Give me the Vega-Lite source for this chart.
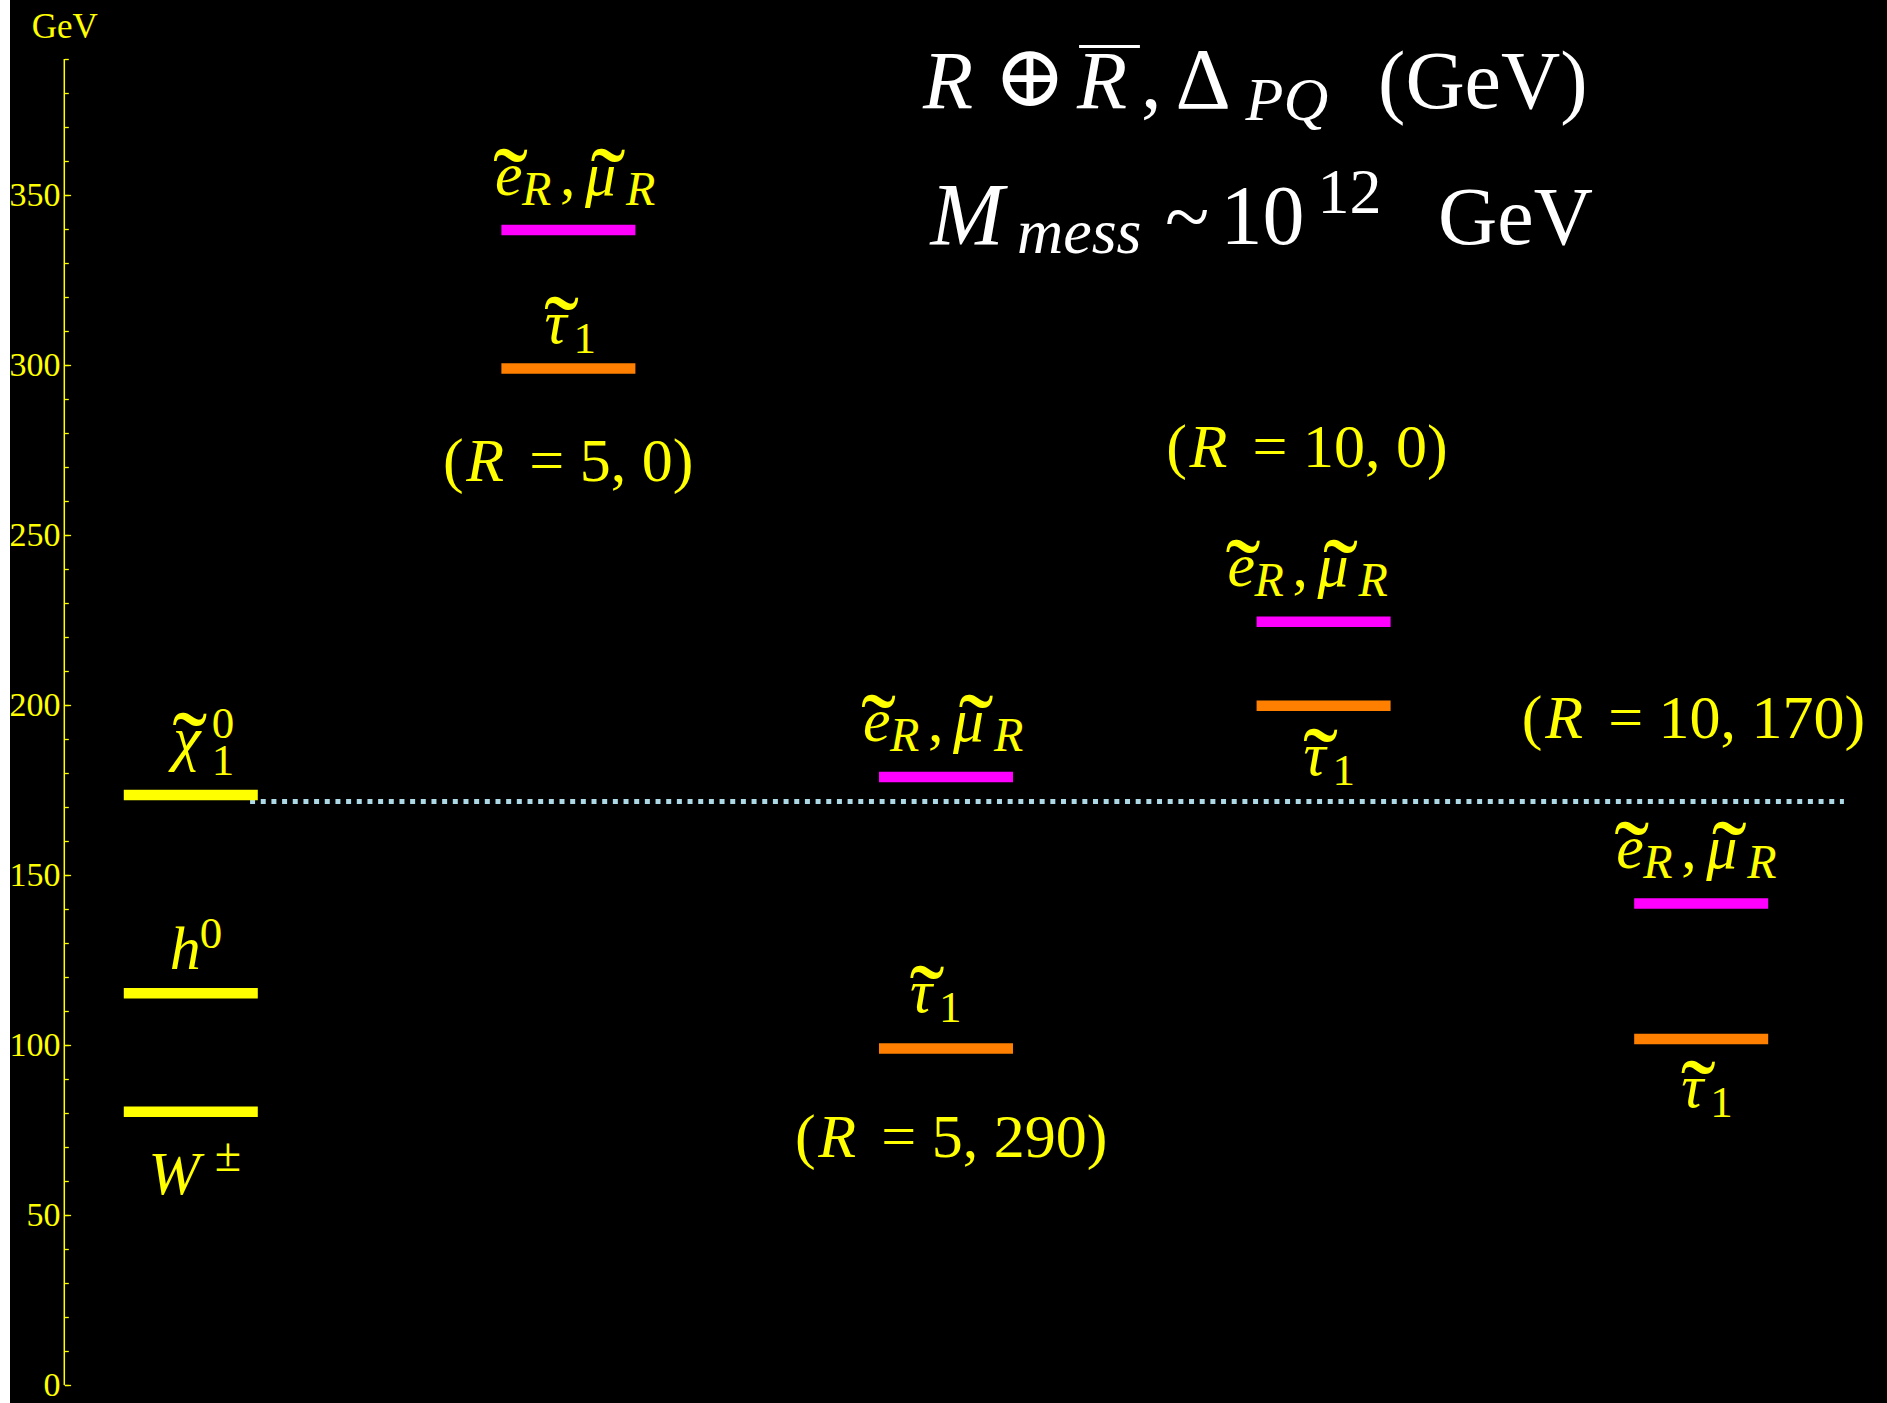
{
  "$schema": "https://vega.github.io/schema/vega-lite/v6.json",
  "width": 1877,
  "height": 1403,
  "autosize": {"type": "none"},
  "padding": {"left": 10, "top": 0, "right": 0, "bottom": 0},
  "background": "white",
  "config": {
    "view": {"fill": "black", "stroke": null},
    "text": {"font": "Liberation Serif", "color": "#ffff00", "baseline": "alphabetic"}
  },
  "datasets": {
    "levels": [
      {"col": 1, "particle": "chi", "mass": 173.5},
      {"col": 1, "particle": "h", "mass": 115.2},
      {"col": 1, "particle": "W", "mass": 80.4},
      {"col": 2, "particle": "eR", "mass": 339.7},
      {"col": 2, "particle": "tau", "mass": 299.0},
      {"col": 3, "particle": "eR", "mass": 178.8},
      {"col": 3, "particle": "tau", "mass": 99.0},
      {"col": 4, "particle": "eR", "mass": 224.5},
      {"col": 4, "particle": "tau", "mass": 199.8},
      {"col": 5, "particle": "eR", "mass": 141.6},
      {"col": 5, "particle": "tau", "mass": 101.8}
    ],
    "lsp": [{"from": 1.157, "to": 5.378, "mass": 171.6}],
    "names": [
      {"name": "chi", "x": 0.9538, "y": 184.1},
      {"name": "h", "x": 0.9445, "y": 122.3},
      {"name": "W", "x": 0.8876, "y": 56.1},
      {"name": "eR", "x": 1.8056, "y": 350.1},
      {"name": "eR", "x": 2.7802, "y": 189.4},
      {"name": "eR", "x": 3.7455, "y": 235.1},
      {"name": "eR", "x": 4.7748, "y": 152.2},
      {"name": "tau", "x": 1.9364, "y": 306.4},
      {"name": "tau", "x": 2.9047, "y": 109.6},
      {"name": "tau", "x": 3.9468, "y": 179.5},
      {"name": "tau", "x": 4.9469, "y": 81.8}
    ],
    "scenarios": [
      {"lx": 1.668, "ly": 265.8, "rest": "= 5, 0)"},
      {"lx": 2.6, "ly": 67.2, "rest": "= 5, 290)"},
      {"lx": 3.583, "ly": 270.0, "rest": "= 10, 0)"},
      {"lx": 4.525, "ly": 190.2, "rest": "= 10, 170)"}
    ]
  },
  "resolve": {"axis": {"y": "independent"}},
  "layer": [
    {
      "data": {"name": "lsp"},
      "mark": {"type": "rule", "color": "#add8e6", "strokeWidth": 5, "strokeDash": [5, 5.67], "strokeCap": "butt"},
      "encoding": {
        "x": {"field": "from", "type": "quantitative", "axis": null, "scale": {"domain": [0.5212, 5.4921], "nice": false, "zero": false}},
        "x2": {"field": "to"},
        "y": {"field": "mass", "type": "quantitative", "axis": null, "scale": {"domain": [-5.294, 407.353], "nice": false, "zero": false}}
      }
    },
    {
      "data": {"values": [{}]},
      "mark": {"type": "rule", "color": "#ffff00", "strokeWidth": 1.5},
      "encoding": {
        "x": {"datum": 0.665, "type": "quantitative", "axis": null},
        "y": {"datum": 0, "type": "quantitative", "axis": {
          "orient": "left", "offset": -54.3, "values": [0,10,20,30,40,50,60,70,80,90,100,110,120,130,140,150,160,170,180,190,200,210,220,230,240,250,260,270,280,290,300,310,320,330,340,350,360,370,380,390],
          "labels": false, "domain": false, "grid": false, "title": null,
          "tickSize": -4, "tickColor": "#ffff00", "tickWidth": 1.3
        }},
        "y2": {"datum": 390}
      }
    },
    {
      "data": {"name": "levels"},
      "mark": {"type": "tick", "orient": "horizontal", "size": 134, "thickness": 10.5, "opacity": 1},
      "encoding": {
        "x": {"field": "col", "type": "quantitative", "axis": null},
        "y": {"field": "mass", "type": "quantitative", "axis": {
          "orient": "left", "offset": -54.3, "values": [0,50,100,150,200,250,300,350],
          "domain": false, "grid": false,
          "tickSize": -6.3, "tickColor": "#ffff00", "tickWidth": 1.3,
          "labelFont": "Liberation Serif", "labelFontSize": 34, "labelColor": "#ffff00",
          "labelAlign": "right", "labelBaseline": "middle", "labelPadding": 10.6,
          "labelFlush": false, "labelOverlap": false,
          "title": "GeV", "titleAngle": 0, "titleX": 0, "titleY": 37,
          "titleAlign": "center", "titleBaseline": "alphabetic",
          "titleFont": "Liberation Serif", "titleFontSize": 35, "titleFontWeight": "normal", "titleColor": "#ffff00"
        }},
        "color": {"field": "particle", "type": "nominal", "legend": null,
          "scale": {"domain": ["chi", "h", "W", "eR", "tau"], "range": ["#ffff00", "#ffff00", "#ffff00", "#ff00ff", "#ff8000"]}}
      }
    },
    {
      "data": {"name": "names"},
      "transform": [{"filter": "datum.name == 'eR'"}],
      "layer": [
        {"mark": {"type": "text", "text": "e", "fontStyle": "italic", "fontSize": 62, "align": "left"}},
        {"mark": {"type": "text", "text": "˜", "fontSize": 105, "align": "center", "dx": 15.5, "dy": 25}},
        {"mark": {"type": "text", "text": "R", "fontStyle": "italic", "fontSize": 48, "align": "left", "dx": 27, "dy": 10}},
        {"mark": {"type": "text", "text": ",", "fontSize": 62, "align": "left", "dx": 65}},
        {"mark": {"type": "text", "text": "μ", "fontStyle": "italic", "fontSize": 62, "align": "left", "dx": 90}},
        {"mark": {"type": "text", "text": "˜", "fontSize": 105, "align": "center", "dx": 113, "dy": 25}},
        {"mark": {"type": "text", "text": "R", "fontStyle": "italic", "fontSize": 48, "align": "left", "dx": 131, "dy": 10}}
      ],
      "encoding": {
        "x": {"field": "x", "type": "quantitative", "axis": null},
        "y": {"field": "y", "type": "quantitative", "axis": null}
      }
    },
    {
      "data": {"name": "names"},
      "transform": [{"filter": "datum.name == 'tau'"}],
      "layer": [
        {"mark": {"type": "text", "text": "τ", "fontStyle": "italic", "fontSize": 62, "align": "left"}},
        {"mark": {"type": "text", "text": "˜", "fontSize": 105, "align": "center", "dx": 17, "dy": 25}},
        {"mark": {"type": "text", "text": "1", "fontSize": 45, "align": "left", "dx": 29, "dy": 10}}
      ],
      "encoding": {
        "x": {"field": "x", "type": "quantitative", "axis": null},
        "y": {"field": "y", "type": "quantitative", "axis": null}
      }
    },
    {
      "data": {"name": "names"},
      "transform": [{"filter": "datum.name == 'chi'"}],
      "layer": [
        {"mark": {"type": "text", "text": "χ", "fontStyle": "italic", "fontSize": 62, "align": "left"}},
        {"mark": {"type": "text", "text": "˜", "fontSize": 105, "align": "center", "dx": 16.5, "dy": 25}},
        {"mark": {"type": "text", "text": "0", "fontSize": 45, "align": "left", "dx": 38.5, "dy": -21}},
        {"mark": {"type": "text", "text": "1", "fontSize": 45, "align": "left", "dx": 38.5, "dy": 16}}
      ],
      "encoding": {
        "x": {"field": "x", "type": "quantitative", "axis": null},
        "y": {"field": "y", "type": "quantitative", "axis": null}
      }
    },
    {
      "data": {"name": "names"},
      "transform": [{"filter": "datum.name == 'h'"}],
      "layer": [
        {"mark": {"type": "text", "text": "h", "fontStyle": "italic", "fontSize": 62, "align": "left"}},
        {"mark": {"type": "text", "text": "0", "fontSize": 45, "align": "left", "dx": 30, "dy": -21}}
      ],
      "encoding": {
        "x": {"field": "x", "type": "quantitative", "axis": null},
        "y": {"field": "y", "type": "quantitative", "axis": null}
      }
    },
    {
      "data": {"name": "names"},
      "transform": [{"filter": "datum.name == 'W'"}],
      "layer": [
        {"mark": {"type": "text", "text": "W", "fontStyle": "italic", "fontSize": 62, "align": "left"}},
        {"mark": {"type": "text", "text": "±", "fontSize": 48, "align": "left", "dx": 66.5, "dy": -23}}
      ],
      "encoding": {
        "x": {"field": "x", "type": "quantitative", "axis": null},
        "y": {"field": "y", "type": "quantitative", "axis": null}
      }
    },
    {
      "data": {"name": "scenarios"},
      "layer": [
        {"mark": {"type": "text", "text": "(", "fontSize": 62, "align": "left", "dx": 0}},
        {"mark": {"type": "text", "text": "R", "fontStyle": "italic", "fontSize": 62, "align": "left", "dx": 23.3}},
        {"mark": {"type": "text", "fontSize": 62, "align": "left", "dx": 86.3}, "encoding": {"text": {"field": "rest"}}}
      ],
      "encoding": {
        "x": {"field": "lx", "type": "quantitative", "axis": null},
        "y": {"field": "ly", "type": "quantitative", "axis": null}
      }
    },
    {
      "data": {"values": [{}]},
      "layer": [
        {"mark": {"type": "text", "text": "R", "fontStyle": "italic", "fontSize": 82, "align": "left", "dx": -400.5, "color": "white"}},
        {"mark": {"type": "text", "text": "⊕", "font": "DejaVu Serif", "fontSize": 87, "align": "left", "dx": -330, "dy": -2, "color": "white"}},
        {"mark": {"type": "text", "text": "R", "fontStyle": "italic", "fontSize": 82, "align": "left", "dx": -246.5, "color": "white"}},
        {"mark": {"type": "text", "text": "—", "fontSize": 60, "align": "left", "dx": -244, "dy": -48, "color": "white"}},
        {"mark": {"type": "text", "text": ",", "fontSize": 82, "align": "left", "dx": -182.5, "color": "white"}},
        {"mark": {"type": "text", "text": "Δ", "fontSize": 86, "align": "left", "dx": -148, "color": "white"}},
        {"mark": {"type": "text", "text": "PQ", "fontStyle": "italic", "fontSize": 62, "align": "left", "dx": -78, "dy": 12, "color": "white"}},
        {"mark": {"type": "text", "text": "(GeV)", "fontSize": 82, "align": "left", "dx": 54.5, "color": "white"}}
      ],
      "encoding": {
        "x": {"datum": 4, "type": "quantitative", "axis": null},
        "y": {"datum": 375.6, "type": "quantitative", "axis": null}
      }
    },
    {
      "data": {"values": [{}]},
      "layer": [
        {"mark": {"type": "text", "text": "M", "fontStyle": "italic", "fontSize": 88, "align": "left", "dx": -393, "color": "white"}},
        {"mark": {"type": "text", "text": "mess", "fontStyle": "italic", "fontSize": 64, "align": "left", "dx": -306.5, "dy": 9, "color": "white"}},
        {"mark": {"type": "text", "text": "~", "fontSize": 82, "align": "left", "dx": -158.5, "color": "white"}},
        {"mark": {"type": "text", "text": "10", "fontSize": 84, "align": "left", "dx": -103, "color": "white"}},
        {"mark": {"type": "text", "text": "12", "fontSize": 64, "align": "left", "dx": -6, "dy": -31, "color": "white"}},
        {"mark": {"type": "text", "text": "GeV", "fontSize": 82, "align": "left", "dx": 114.5, "color": "white"}}
      ],
      "encoding": {
        "x": {"datum": 4, "type": "quantitative", "axis": null},
        "y": {"datum": 335.6, "type": "quantitative", "axis": null}
      }
    }
  ]
}
